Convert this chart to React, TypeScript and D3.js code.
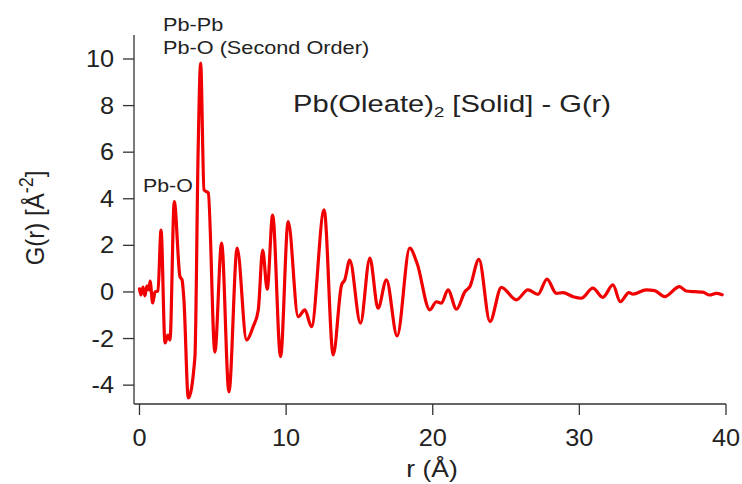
import React from "react";
import * as d3 from "d3";

const rValues = [
  0.0, 0.1, 0.24, 0.37, 0.51, 0.65, 0.72, 0.9, 1.06, 1.26, 1.47, 1.74, 1.94, 2.08, 2.37,
  2.76, 2.9, 3.03, 3.33, 3.78, 4.0, 4.17, 4.4, 4.69, 5.14, 5.6, 6.1, 6.66, 7.3, 7.75,
  8.1, 8.4, 8.71, 9.08, 9.62, 10.14, 10.82, 11.28, 11.73, 12.59, 13.21, 13.78, 14.0,
  14.34, 15.07, 15.71, 16.27, 16.84, 17.57, 18.43, 18.93, 19.8, 20.25, 20.59, 21.04,
  21.62, 22.19, 22.53, 23.15, 23.9, 24.68, 25.7, 26.49, 27.18, 27.79, 28.43, 28.88,
  29.56, 30.13, 30.92, 31.6, 32.29, 32.79, 33.38, 33.65, 34.56, 35.13, 35.81, 36.83,
  37.29, 37.85, 38.42, 38.88, 39.33, 39.74,
];
const gValues = [
  0.13, -0.13, 0.21, -0.17, 0.26, 0.09, 0.47, -0.47, 0.0, 0.04, 2.66, -2.19, -1.85, -2.06, 3.88,
  0.66, 0.52, -0.34, -4.55, -2.79, 6.09, 9.82, 4.38, 4.25, -2.58, 2.1, -4.29, 1.88, -2.06, -1.49,
  -0.77, 1.8, 0.12, 3.3, -2.78, 3.02, -1.06, -0.77, -1.49, 3.52, -2.7, 0.3, 0.52,
  1.37, -1.34, 1.45, -0.7, 0.52, -1.89, 1.88, 1.23, -0.77, -0.42, -0.48, 0.09,
  -0.74, 0.01, 0.23, 1.4, -1.27, 0.2, -0.34, 0.09, -0.1, 0.55, -0.06, -0.03,
  -0.2, -0.27, 0.16, -0.23, 0.3, -0.42, -0.03, -0.09, 0.09, 0.06, -0.2, 0.23,
  0.04, 0.01, -0.01, -0.13, -0.06, -0.12,
];
const xTicks = [0, 10, 20, 30, 40];
const yTicks = [-4, -2, 0, 2, 4, 6, 8, 10];
const titleMain = "Pb(Oleate)";
const titleSub = "2";
const titleRest = " [Solid] - G(r)";
const annotations = ["Pb-Pb", "Pb-O (Second Order)", "Pb-O"];
const xLabel = "r (Å)";

const W = 742;
const H = 484;
const FONT = "'Liberation Sans', Arial, Helvetica, sans-serif";
const SX = 1.2;
const AX = "#333";

export default function App() {
  const x = d3.scaleLinear().domain([-0.375, 40]).range([134, 726]);
  const y = d3.scaleLinear().domain([-4.81, 11.03]).range([404, 35]);
  const data = rValues.map((r, i) => [r, gValues[i]] as [number, number]);
  const line = d3
    .line<[number, number]>()
    .x((d) => x(d[0]))
    .y((d) => y(d[1]))
    .curve(d3.curveMonotoneX);

  const txt = (
    px: number,
    py: number,
    size: number,
    content: React.ReactNode,
    anchor: string = "start",
    sx: number = SX,
    key?: string
  ) => (
    <text
      key={key}
      transform={`translate(${px},${py}) scale(${sx},1)`}
      fontSize={size}
      textAnchor={anchor as any}
      fontFamily={FONT}
      fill="#222"
    >
      {content}
    </text>
  );

  return (
    <svg
      width={W}
      height={H}
      style={{ position: "absolute", left: 0, top: 0, background: "#fff" }}
    >
      <rect width={W} height={H} fill="#fff" />
      {/* axes */}
      <line x1={134} x2={134} y1={35} y2={404} stroke={AX} strokeWidth={1.3} />
      <line x1={134} x2={726} y1={404} y2={404} stroke={AX} strokeWidth={1.3} />
      {yTicks.map((t) => (
        <g key={"y" + t}>
          <line x1={123} x2={134} y1={y(t)} y2={y(t)} stroke={AX} strokeWidth={1.3} />
          {txt(114, y(t) + 8, 23, String(t), "end", 1.1)}
        </g>
      ))}
      {xTicks.map((t) => (
        <g key={"x" + t}>
          <line x1={x(t)} x2={x(t)} y1={404} y2={415} stroke={AX} strokeWidth={1.3} />
          {txt(x(t), 446, 23, String(t), "middle", 1.1)}
        </g>
      ))}
      {txt(432, 477, 23, xLabel, "middle", 1.15)}
      <text
        transform={`translate(44,218) scale(1.1,1) rotate(-90)`}
        fontSize={24}
        textAnchor="middle"
        fontFamily={FONT}
        fill="#222"
      >
        G(r) [Å
        <tspan fontSize={18} dy={-10}>-2</tspan>
        <tspan dy={10}>]</tspan>
      </text>

      {/* title */}
      {txt(
        293,
        112,
        23.5,
        <>
          {titleMain}
          <tspan fontSize={15} dy={5}>{titleSub}</tspan>
          <tspan dy={-5}>{titleRest}</tspan>
        </>,
        "start",
        1.24
      )}
      {txt(163, 31, 17.5, annotations[0], "start", 1.24)}
      {txt(163, 53.5, 17.5, annotations[1], "start", 1.24)}
      {txt(143, 191.5, 17.5, annotations[2], "start", 1.22)}

      <path
        d={line(data) || ""}
        fill="none"
        stroke="#f00000"
        strokeWidth={3.2}
        strokeLinejoin="round"
        strokeLinecap="round"
      />
    </svg>
  );
}
